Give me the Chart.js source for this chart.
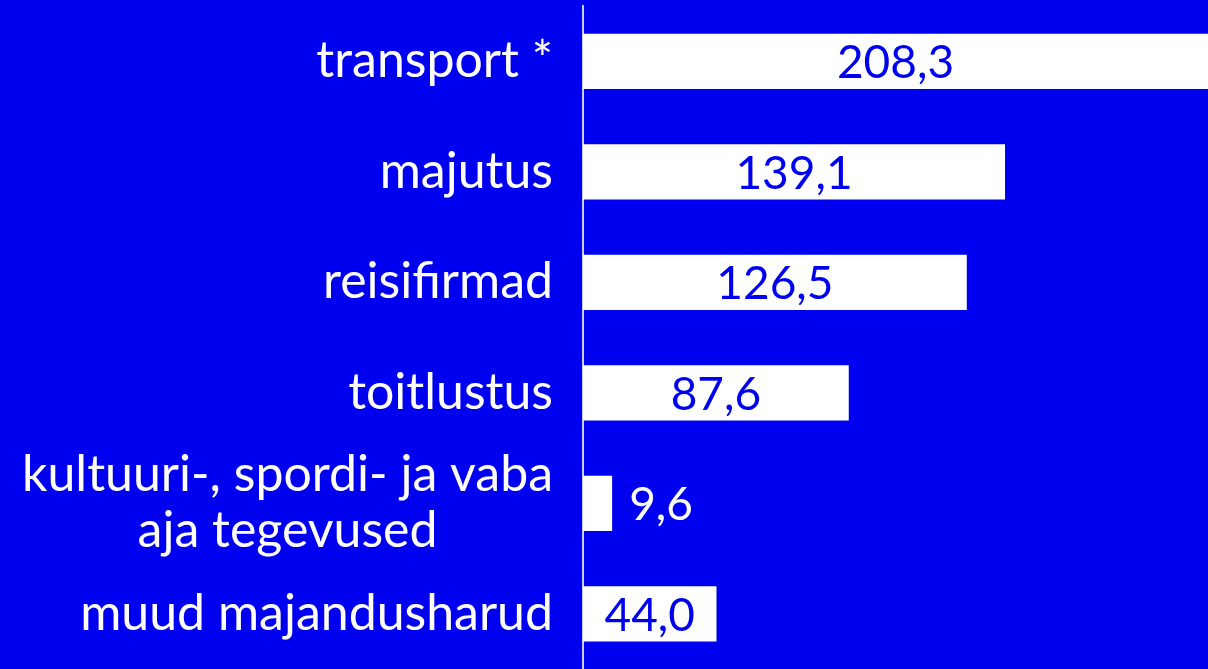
<!DOCTYPE html>
<html>
<head>
<meta charset="utf-8">
<script src="https://cdn.jsdelivr.net/npm/chart.js@4"></script>
<style>
html,body{margin:0;padding:0;background:#0000f0;}
#wrap{width:1208px;height:669px;position:relative;}
</style>
</head>
<body>
<div id="wrap"><canvas id="c"></canvas></div>
<script>
const categories = [
  "transport *",
  "majutus",
  "reisifirmad",
  "toitlustus",
  ["kultuuri-, spordi- ja vaba", "aja tegevused"],
  "muud majandusharud"
];
const values = [208.3, 139.1, 126.5, 87.6, 9.6, 44.0];

const BLUE = '#0000f0';
const FONT = 'Lato, "Noto Sans", sans-serif';
const LABEL_SIZE = 50;
const VALUE_SIZE = 46;
const LABEL_GAP = 30;

const valueLabels = {
  id: 'valueLabels',
  afterDatasetsDraw(chart) {
    const ctx = chart.ctx;
    const meta = chart.getDatasetMeta(0);
    const area = chart.chartArea;
    ctx.save();
    ctx.font = VALUE_SIZE + 'px ' + FONT;
    ctx.textBaseline = 'middle';
    meta.data.forEach((bar, i) => {
      const txt = values[i].toFixed(1).replace('.', ',');
      const w = ctx.measureText(txt).width;
      const right = Math.min(bar.x, area.right);
      const left = bar.base;
      if (right - left > w + 20) {
        ctx.fillStyle = BLUE;
        ctx.textAlign = 'center';
        ctx.fillText(txt, (left + right) / 2, bar.y + 2);
      } else {
        ctx.fillStyle = '#ffffff';
        ctx.textAlign = 'left';
        ctx.fillText(txt, right + 17, bar.y + 2);
      }
    });
    // multi-line category labels: lines centred on each other, block right-aligned
    const y = chart.scales.y;
    ctx.font = LABEL_SIZE + 'px ' + FONT;
    ctx.fillStyle = '#ffffff';
    ctx.textAlign = 'center';
    const lh = LABEL_SIZE * 1.12;
    categories.forEach((c, i) => {
      if (!Array.isArray(c)) return;
      const maxW = Math.max(...c.map(s => ctx.measureText(s).width));
      const cx = area.left - LABEL_GAP - maxW / 2;
      const cy = y.getPixelForTick(i);
      c.forEach((s, k) => {
        ctx.fillText(s, cx, cy + (k - (c.length - 1) / 2) * lh);
      });
    });
    ctx.restore();
  }
};

new Chart(document.getElementById('c'), {
  type: 'bar',
  data: {
    labels: categories,
    datasets: [{
      data: values,
      backgroundColor: '#ffffff',
      borderWidth: 0,
      barPercentage: 0.5,
      categoryPercentage: 1.0
    }]
  },
  options: {
    indexAxis: 'y',
    responsive: true,
    maintainAspectRatio: false,
    animation: false,
    layout: { padding: { top: 6, bottom: 0, left: 0, right: 0 } },
    plugins: { legend: { display: false }, tooltip: { enabled: false } },
    scales: {
      x: { display: false, min: 0, max: 206 },
      y: {
        afterFit(scale) { scale.width = 583; scale.paddingTop = 0; scale.paddingBottom = 0; },
        grid: { display: false, drawTicks: false },
        border: { display: true, color: 'rgba(255,255,255,0.8)', width: 2 },
        ticks: {
          autoSkip: false,
          color: '#ffffff',
          padding: LABEL_GAP,
          font: { family: FONT, size: LABEL_SIZE, lineHeight: 1.12 },
          callback(v, i) { const c = categories[i]; return Array.isArray(c) ? '' : c; }
        }
      }
    }
  },
  plugins: [valueLabels]
});
</script>
</body>
</html>
